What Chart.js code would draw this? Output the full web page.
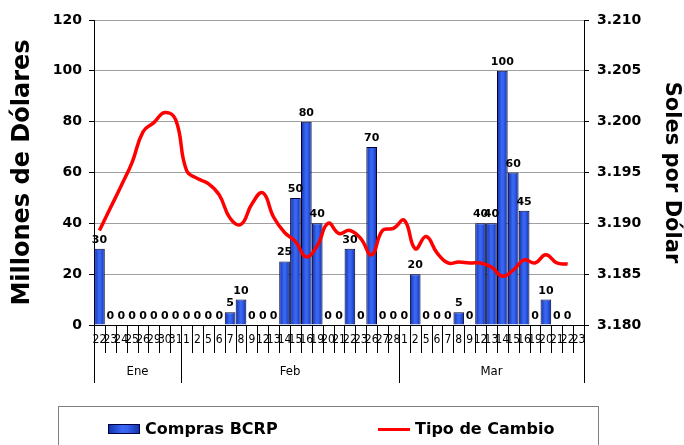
<!DOCTYPE html>
<html>
<head>
<meta charset="utf-8">
<script src="https://cdn.jsdelivr.net/npm/chart.js@4.4.1/dist/chart.umd.min.js"></script>
<style>
html,body{margin:0;padding:0;background:#fff;}
#wrap{position:relative;width:684px;height:445px;}
</style>
</head>
<body>
<div id="wrap"><canvas id="c" width="684" height="445"></canvas></div>
<script>
const categories = ['22','23','24','25','26','29','30','31',
  '1','2','5','6','7','8','9','12','13','14','15','16','19','20','21','22','23','26','27','28',
  '1','2','5','6','7','8','9','12','13','14','15','16','19','20','21','22','23'];
const months = ['Ene','Feb','Mar'];
const monthCounts = [8, 20, 17];
const compras = [30,0,0,0,0,0,0,0,
  0,0,0,0,5,10,0,0,0,25,50,80,40,0,0,30,0,70,0,0,
  0,20,0,0,0,5,0,40,40,100,60,45,0,10,0,0,null];
const tipoCambio = [3.1893,3.1915,3.1937,3.1960,3.1990,3.1999,3.2009,3.2002,
  3.1952,3.1944,3.1939,3.1928,3.1905,3.1899,3.1919,3.1930,3.1906,3.1891,3.1882,3.1867,3.1878,3.1900,3.1890,3.1893,3.1885,3.1869,3.1893,3.1895,
  3.1903,3.1875,3.1887,3.1871,3.1861,3.1862,3.1861,3.1861,3.1857,3.1848,3.1854,3.1864,3.1861,3.1869,3.1861,3.1860,null];
const leftTicks = [0,20,40,60,80,100,120];
const rightTicks = [3.180,3.185,3.190,3.195,3.200,3.205,3.210];

const BOLD = "'DejaVu Sans', sans-serif";
const NARROW = "'Liberation Sans Narrow', 'DejaVu Sans Condensed', sans-serif";

function barGradient(ctx, x0, x1) {
  const g = ctx.createLinearGradient(x0, 0, x1, 0);
  g.addColorStop(0, '#1030a8');
  g.addColorStop(0.45, '#3a68f5');
  g.addColorStop(0.6, '#3563f0');
  g.addColorStop(1, '#1030a8');
  return g;
}

const decoPlugin = {
  id: 'deco',
  afterDraw(chart) {
    const ctx = chart.ctx;
    const xs = chart.scales.x;
    const area = chart.chartArea;
    const n = categories.length;
    const half = (xs.getPixelForValue(1) - xs.getPixelForValue(0)) / 2;
    const bounds = new Set([0]);
    let acc = 0;
    monthCounts.forEach(c => { acc += c; bounds.add(acc); });
    ctx.save();
    ctx.strokeStyle = '#000';
    ctx.lineWidth = 1;
    for (let i = 0; i <= n; i++) {
      const x = Math.round(xs.getPixelForValue(i) - half) + 0.5;
      const long = bounds.has(i);
      ctx.beginPath();
      ctx.moveTo(x, area.bottom);
      ctx.lineTo(x, area.bottom + (long ? 58 : 28));
      ctx.stroke();
    }
    ctx.fillStyle = '#000';
    ctx.font = "13px " + NARROW;
    ctx.textAlign = 'center';
    ctx.textBaseline = 'middle';
    let start = 0;
    months.forEach((m, k) => {
      const end = start + monthCounts[k] - 1;
      const cx = (xs.getPixelForValue(start) + xs.getPixelForValue(end)) / 2;
      ctx.fillText(m, cx, 372);
      start += monthCounts[k];
    });
    // data labels on bars
    const meta = chart.getDatasetMeta(1);
    ctx.font = "bold 11px " + BOLD;
    ctx.textBaseline = 'alphabetic';
    meta.data.forEach((el, i) => {
      const v = compras[i];
      if (v === null || v === undefined) return;
      ctx.fillText(String(v), el.x, el.y - 6);
    });
    // legend
    ctx.strokeStyle = '#808080';
    ctx.strokeRect(58.5, 406.5, 540, 60);
    ctx.fillStyle = barGradient(ctx, 108, 140);
    ctx.fillRect(108, 424, 32, 10);
    ctx.strokeStyle = '#000040';
    ctx.strokeRect(108.5, 424.5, 31, 9);
    ctx.fillStyle = '#000';
    ctx.textAlign = 'left';
    ctx.textBaseline = 'middle';
    ctx.font = "bold 16px " + BOLD;
    ctx.fillText('Compras BCRP', 145, 430);
    ctx.strokeStyle = '#ff0000';
    ctx.lineWidth = 3;
    ctx.beginPath();
    ctx.moveTo(378, 429.5);
    ctx.lineTo(410, 429.5);
    ctx.stroke();
    ctx.fillText('Tipo de Cambio', 415, 430);
    ctx.restore();
  }
};

const chart = new Chart(document.getElementById('c'), {
  data: {
    labels: categories,
    datasets: [
      {
        type: 'line',
        label: 'Tipo de Cambio',
        data: tipoCambio,
        yAxisID: 'y2',
        borderColor: '#ff0000',
        borderWidth: 3.5,
        pointRadius: 0,
        tension: 0.45,
        fill: false,
        order: 0
      },
      {
        type: 'bar',
        label: 'Compras BCRP',
        data: compras,
        yAxisID: 'y',
        backgroundColor: (c) => {
          const ch = c.chart;
          const xs = ch.scales && ch.scales.x;
          if (!xs || !ch.chartArea) return '#2f5ae8';
          const cx = xs.getPixelForValue(c.dataIndex);
          const w = (xs.getPixelForValue(1) - xs.getPixelForValue(0)) * 0.98;
          return barGradient(ch.ctx, cx - w / 2, cx + w / 2);
        },
        borderColor: '#000033',
        borderWidth: 1,
        barPercentage: 0.98,
        categoryPercentage: 1.0,
        order: 1
      }
    ]
  },
  options: {
    responsive: false,
    animation: false,
    layout: { padding: { top: 20, left: 0, right: 0, bottom: 0 } },
    plugins: { legend: { display: false }, tooltip: { enabled: false } },
    scales: {
      x: {
        offset: true,
        grid: { display: false, drawTicks: false },
        border: { display: true, color: '#000', width: 1 },
        ticks: {
          autoSkip: false, maxRotation: 0, minRotation: 0, padding: 8,
          color: '#000',
          font: { family: NARROW, size: 12 }
        },
        afterFit: (s) => { s.height = 120; }
      },
      y: {
        position: 'left',
        min: 0, max: 120,
        afterBuildTicks: (s) => { s.ticks = leftTicks.map(v => ({ value: v })); },
        grid: { color: '#a0a0a0', lineWidth: 1, tickColor: '#000', tickLength: 5 },
        border: { display: true, color: '#000', width: 1 },
        ticks: { color: '#000', padding: 7, font: { family: BOLD, size: 14, weight: 'bold' } },
        title: {
          display: true, text: 'Millones de Dólares', color: '#000',
          font: { family: BOLD, size: 24, weight: 'bold' },
          padding: { top: 8, bottom: 0 }
        },
        afterFit: (s) => { s.width = 94; }
      },
      y2: {
        position: 'right',
        min: 3.18, max: 3.21,
        afterBuildTicks: (s) => { s.ticks = rightTicks.map(v => ({ value: v })); },
        grid: { drawOnChartArea: false, tickColor: '#000', tickLength: 5 },
        border: { display: true, color: '#000', width: 1 },
        ticks: {
          color: '#000', padding: 8,
          font: { family: BOLD, size: 14, weight: 'bold' },
          callback: (v) => Number(v).toFixed(3)
        },
        title: {
          display: true, text: 'Soles por Dólar', color: '#000',
          font: { family: BOLD, size: 21, weight: 'bold' },
          padding: { top: 0, bottom: 0 }
        },
        afterFit: (s) => { s.width = 100; }
      }
    }
  },
  plugins: [decoPlugin]
});
chart.update();
</script>
</body>
</html>
